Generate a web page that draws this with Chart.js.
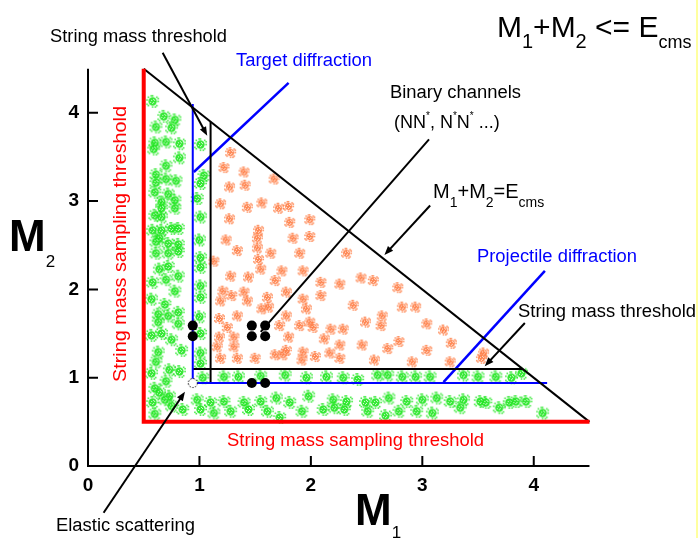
<!DOCTYPE html>
<html>
<head>
<meta charset="utf-8">
<title>M1 + M2 mass plane</title>
<script src="https://cdn.jsdelivr.net/npm/chart.js@4.4.0/dist/chart.umd.min.js"></script>
<style>
html, body { margin: 0; padding: 0; background: #fff; }
canvas { display: block; }
</style>
</head>
<body>
<canvas id="massPlane" width="698" height="538"></canvas>
<script>
// Axis ticks (GeV)
const xTicks = [0, 1, 2, 3, 4];
const yTicks = [0, 1, 2, 3, 4];

const greenPoints = [
    // left strip: target diffraction side
    [0.58, 4.13], [0.68, 3.96], [0.78, 3.92], [0.61, 3.84], [0.75, 3.83], [0.60, 3.66], [0.59, 3.59],
    [0.70, 3.67], [0.82, 3.65], [0.82, 3.49], [0.70, 3.40], [0.61, 3.30], [0.61, 3.21], [0.70, 3.25],
    [0.79, 3.23], [0.60, 3.10], [0.72, 3.08], [0.66, 2.99], [0.78, 3.01], [0.66, 2.92], [0.60, 2.84],
    [0.78, 2.92], [0.66, 2.82], [0.58, 2.67], [0.66, 2.67], [0.75, 2.69], [0.81, 2.69], [0.64, 2.58],
    [0.61, 2.54], [0.72, 2.52], [0.81, 2.51], [0.61, 2.41], [0.72, 2.41], [0.81, 2.43], [0.64, 2.23],
    [0.72, 2.26], [0.70, 2.11], [0.81, 2.15], [0.58, 2.08], [0.78, 1.98], [0.57, 1.89], [0.69, 1.83],
    [0.63, 1.72], [0.72, 1.70], [0.81, 1.74], [0.63, 1.63], [0.81, 1.61], [0.57, 1.48], [0.66, 1.50],
    [0.75, 1.43], [0.84, 1.31], [0.63, 1.29], [0.61, 1.18], [0.57, 1.05], [0.73, 1.09], [0.82, 1.07],
    [0.70, 0.96], [0.60, 0.88], [0.64, 0.83], [0.73, 0.79],
    // between diffraction line and threshold (vertical)
    [1.01, 3.64], [1.04, 3.29], [1.01, 3.20], [0.98, 3.03], [1.01, 2.82], [1.00, 2.56], [1.01, 2.36],
    [1.01, 2.25], [1.01, 2.04], [1.01, 1.91], [1.00, 1.69], [1.01, 1.50], [1.01, 1.28], [1.01, 1.16],
    [1.03, 1.00],
    // between diffraction line and threshold (horizontal)
    [1.22, 1.01], [1.35, 1.01], [1.55, 1.02], [1.77, 1.03], [1.96, 1.00], [2.14, 1.01], [2.29, 1.00],
    [2.42, 0.98], [2.60, 1.03], [2.69, 1.03], [2.82, 1.01], [2.94, 1.01], [3.07, 1.01], [3.37, 1.03],
    [3.50, 1.01], [3.66, 1.01], [3.80, 1.00], [3.89, 1.05],
    // bottom strip: projectile diffraction side
    [0.58, 0.72], [0.60, 0.59], [0.69, 0.75], [0.75, 0.68], [0.85, 0.64], [0.98, 0.75], [1.01, 0.64],
    [1.10, 0.72], [1.13, 0.60], [1.22, 0.73], [1.28, 0.62], [1.40, 0.72], [1.44, 0.64], [1.55, 0.73],
    [1.61, 0.62], [1.69, 0.77], [1.72, 0.55], [1.81, 0.72], [1.92, 0.62], [1.98, 0.79], [2.11, 0.64],
    [2.20, 0.75], [2.21, 0.66], [2.30, 0.64], [2.32, 0.73], [2.49, 0.72], [2.51, 0.62], [2.58, 0.72],
    [2.67, 0.57], [2.70, 0.77], [2.79, 0.62], [2.86, 0.73], [2.95, 0.62], [3.00, 0.75], [3.09, 0.60],
    [3.13, 0.77], [3.25, 0.73], [3.34, 0.66], [3.37, 0.75], [3.52, 0.73], [3.57, 0.72], [3.69, 0.66],
    [3.78, 0.72], [3.84, 0.73], [3.93, 0.73], [4.08, 0.60]
];

const orangePoints = [
    [1.28, 3.55], [1.22, 3.38], [1.40, 3.33], [1.27, 3.16], [1.41, 3.18], [1.67, 3.25], [1.19, 2.97],
    [1.43, 2.93], [1.56, 2.98], [1.71, 2.92], [1.80, 2.94], [1.27, 2.80], [1.81, 2.76], [1.99, 2.79],
    [1.53, 2.67], [1.52, 2.58], [1.84, 2.58], [1.24, 2.56], [1.99, 2.60], [1.34, 2.44], [1.13, 2.32],
    [1.52, 2.47], [1.53, 2.34], [1.64, 2.41], [1.90, 2.41], [1.28, 2.15], [1.44, 2.14], [1.55, 2.23],
    [1.74, 2.21], [1.68, 2.10], [1.93, 2.21], [1.21, 1.98], [1.19, 1.87], [1.29, 1.93], [1.40, 1.97],
    [1.43, 1.87], [1.61, 1.91], [1.62, 1.80], [1.56, 1.78], [1.78, 1.97], [1.93, 1.89], [1.96, 1.78],
    [1.34, 1.70], [1.78, 1.70], [1.18, 1.67], [1.25, 1.57], [1.72, 1.59], [1.90, 1.59], [1.99, 1.63],
    [1.18, 1.46], [1.31, 1.46], [1.80, 1.46], [1.16, 1.35], [1.31, 1.35], [1.78, 1.31], [1.93, 1.29],
    [1.19, 1.22], [1.34, 1.22], [1.50, 1.22], [1.68, 1.26], [1.75, 1.26], [1.92, 1.20],
    [2.32, 2.41], [2.09, 2.08], [2.26, 2.06], [2.45, 2.13], [2.56, 2.10], [2.78, 2.02], [2.09, 1.93],
    [2.38, 1.82], [2.64, 1.70], [2.82, 1.80], [2.94, 1.80], [2.63, 1.59], [2.02, 1.57], [2.18, 1.55],
    [2.29, 1.55], [2.49, 1.63], [3.04, 1.61], [2.12, 1.44], [2.26, 1.37], [2.46, 1.37], [2.69, 1.33],
    [2.79, 1.41], [3.19, 1.54], [3.26, 1.39], [3.04, 1.31], [2.04, 1.24], [2.17, 1.28], [2.26, 1.22],
    [2.57, 1.20], [2.91, 1.18], [3.25, 1.18], [3.55, 1.28], [3.53, 1.22]
];

// Binary channels (N, N*) and elastic point
const binaryM1 = [0.94, 0.94, 1.47, 1.59, 1.47, 1.59, 1.47, 1.59];
const binaryM2 = [1.59, 1.47, 1.59, 1.59, 1.47, 1.47, 0.94, 0.94];
const elasticPoint = [0.94, 0.94];

// Region borders in (M1, M2)
const axisMax = 4.5;
const samplingEdge = [[0.5, 4.5], [0.5, 0.5], [4.5, 0.5]];
const kinematicEdge = [[0.5, 4.5], [4.5, 0.5]];
const diffractionEdge = [[0.94, 4.10], [0.94, 0.94], [4.12, 0.94]];
const thresholdM1 = [[1.10, 3.90], [1.10, 0.93]];
const thresholdM2 = [[0.94, 1.10], [3.90, 1.10]];
const targetPointer = [[0.95, 3.33], [1.80, 4.34]];
const projectilePointer = [[3.19, 0.95], [4.10, 2.21]];

// Callout lines: from, to, arrow head
const callouts = [
    [[0.67, 4.68], [1.07, 3.74], true],
    [[3.06, 3.70], [1.55, 1.52], false],
    [[3.07, 2.95], [2.66, 2.39], true],
    [[3.92, 1.62], [3.56, 1.13], true],
    [[0.14, -0.53], [0.87, 0.84], true]
];

const FONT = 'Arial, "Liberation Sans", sans-serif';
const BLUE = '#0000ff';
const RED = '#ff0000';

// Speckled blob used as point style
const RIM = [[-4, -1], [-3, 3], [0, 4], [3, 3], [4, 0], [3, -3], [0, -4], [-3, -3], [-4, 2], [2, 4], [4, -2], [-1, -4]];
const HOLES = [[-1, -1], [1, 1], [2, -1], [-2, 1], [0, 2], [1, -2]];

function makeBlob(color, r) {
    const size = Math.ceil(r * 2) + 3;
    const c = document.createElement('canvas');
    c.width = c.height = size;
    const g = c.getContext('2d');
    const m = size / 2;
    g.fillStyle = color;
    g.globalAlpha = 0.9;
    g.beginPath();
    g.arc(m, m, r * 0.74, 0, Math.PI * 2);
    g.fill();
    g.globalAlpha = 0.8;
    RIM.forEach(([dx, dy]) => g.fillRect(m + dx * r / 4 - 0.8, m + dy * r / 4 - 0.8, 1.6, 1.6));
    g.globalAlpha = 1;
    g.fillStyle = 'rgba(255,255,255,0.8)';
    HOLES.forEach(([dx, dy]) => g.fillRect(m + dx - 0.5, m + dy - 0.5, 1, 1));
    return c;
}

function makeOpenMarker(r) {
    const size = Math.ceil(r * 2) + 3;
    const c = document.createElement('canvas');
    c.width = c.height = size;
    const g = c.getContext('2d');
    g.fillStyle = '#fff';
    g.beginPath();
    g.arc(size / 2, size / 2, r, 0, Math.PI * 2);
    g.fill();
    g.setLineDash([1.5, 1.5]);
    g.strokeStyle = '#000';
    g.lineWidth = 1;
    g.stroke();
    return c;
}

const toXY = pts => pts.map(([x, y]) => ({ x, y }));

function edge(points, color, width) {
    return {
        data: toXY(points),
        showLine: true,
        borderColor: color,
        borderWidth: width,
        borderJoinStyle: 'miter',
        borderCapStyle: 'butt',
        pointRadius: 0,
        fill: false,
        order: 1
    };
}

// Axes with inward ticks, only up to axisMax
const axesPlugin = {
    id: 'axes',
    beforeDatasetsDraw(chart) {
        const { ctx, scales: { x, y } } = chart;
        const x0 = x.getPixelForValue(0);
        const y0 = y.getPixelForValue(0);
        ctx.save();
        ctx.strokeStyle = '#000';
        ctx.lineWidth = 2;
        ctx.beginPath();
        ctx.moveTo(x0, y.getPixelForValue(axisMax));
        ctx.lineTo(x0, y0);
        ctx.lineTo(x.getPixelForValue(axisMax), y0);
        ctx.stroke();
        ctx.beginPath();
        xTicks.filter(v => v > 0).forEach(v => {
            const px = x.getPixelForValue(v);
            ctx.moveTo(px, y0);
            ctx.lineTo(px, y0 - 10);
        });
        yTicks.filter(v => v > 0).forEach(v => {
            const py = y.getPixelForValue(v);
            ctx.moveTo(x0, py);
            ctx.lineTo(x0 + 10, py);
        });
        ctx.stroke();

        ctx.fillStyle = '#000';
        ctx.font = 'bold 19px ' + FONT;
        ctx.textAlign = 'center';
        ctx.textBaseline = 'middle';
        xTicks.forEach(v => ctx.fillText(String(v), x.getPixelForValue(v), y0 + 20));
        ctx.textAlign = 'right';
        yTicks.forEach(v => ctx.fillText(String(v), x0 - 9, y.getPixelForValue(v)));
        ctx.restore();
    }
};

function drawRuns(ctx, x, y, runs) {
    let cx = x;
    runs.forEach(([t, font, dy]) => {
        ctx.font = font + ' ' + FONT;
        ctx.fillText(t, cx, y + dy);
        cx += ctx.measureText(t).width;
    });
}

function drawLabel(ctx, l) {
    ctx.save();
    ctx.font = l.font + ' ' + FONT;
    ctx.fillStyle = l.color || '#000';
    ctx.textAlign = l.align || 'left';
    ctx.textBaseline = 'alphabetic';
    ctx.translate(l.x, l.y);
    if (l.rotate) ctx.rotate(l.rotate);
    if (l.width) ctx.scale(l.width / ctx.measureText(l.text).width, 1);
    ctx.fillText(l.text, 0, 0);
    ctx.restore();
}

const labels = [
    { text: 'String mass threshold', x: 50, y: 42, font: '18px', width: 177 },
    { text: 'Target diffraction', x: 236, y: 66, font: '18px', width: 136, color: BLUE },
    { text: 'Binary channels', x: 390, y: 98, font: '18px', width: 131 },
    { text: 'Projectile diffraction', x: 477, y: 262, font: '18px', width: 160, color: BLUE },
    { text: 'String mass threshold', x: 518, y: 317, font: '18px', width: 178 },
    { text: 'Elastic scattering', x: 56, y: 531, font: '18px', width: 139 },
    { text: 'String mass sampling threshold', x: 227, y: 446, font: '19px', width: 257, color: RED },
    { text: 'String mass sampling threshold', x: 126, y: 244, font: '19px', width: 276, color: RED,
      align: 'center', rotate: -Math.PI / 2 }
];

const annotationPlugin = {
    id: 'annotations',
    afterDatasetsDraw(chart) {
        const { ctx, scales: { x, y } } = chart;
        ctx.save();
        ctx.strokeStyle = '#000';
        ctx.fillStyle = '#000';
        ctx.lineWidth = 2;
        callouts.forEach(([from, to, head]) => {
            const x1 = x.getPixelForValue(from[0]), y1 = y.getPixelForValue(from[1]);
            const x2 = x.getPixelForValue(to[0]), y2 = y.getPixelForValue(to[1]);
            const a = Math.atan2(y2 - y1, x2 - x1);
            const back = head ? 6 : 0;
            ctx.beginPath();
            ctx.moveTo(x1, y1);
            ctx.lineTo(x2 - back * Math.cos(a), y2 - back * Math.sin(a));
            ctx.stroke();
            if (head) {
                ctx.beginPath();
                ctx.moveTo(x2, y2);
                ctx.lineTo(x2 - 9 * Math.cos(a) + 3.5 * Math.sin(a), y2 - 9 * Math.sin(a) - 3.5 * Math.cos(a));
                ctx.lineTo(x2 - 9 * Math.cos(a) - 3.5 * Math.sin(a), y2 - 9 * Math.sin(a) + 3.5 * Math.cos(a));
                ctx.closePath();
                ctx.fill();
            }
        });

        labels.forEach(l => drawLabel(ctx, l));

        ctx.fillStyle = '#000';
        ctx.textAlign = 'left';
        ctx.textBaseline = 'alphabetic';
        drawRuns(ctx, 497, 37, [['M', '30px', 0], ['1', '20px', 11], ['+', '30px', 0], ['M', '30px', 0],
            ['2', '20px', 11], [' <= ', '30px', 0], ['E', '30px', 0], ['cms', '18px', 11]]);
        drawRuns(ctx, 433, 198, [['M', '20px', 0], ['1', '14px', 9], ['+', '20px', 0], ['M', '20px', 0],
            ['2', '14px', 9], ['=', '20px', 0], ['E', '20px', 0], ['cms', '14px', 9]]);
        drawRuns(ctx, 394, 128, [['(NN', '18px', 0], ['*', '10px', -9], [', N', '18px', 0], ['*', '10px', -9],
            ['N', '18px', 0], ['*', '10px', -9], [' ...)', '18px', 0]]);
        // axis titles
        drawRuns(ctx, 9, 251, [['M', 'bold 44px', 0], ['2', '17px', 16]]);
        drawRuns(ctx, 355, 525, [['M', 'bold 44px', 0], ['1', '17px', 13]]);

        // thin yellow frame edge on the right
        ctx.strokeStyle = '#ffff80';
        ctx.lineWidth = 1.5;
        ctx.beginPath();
        ctx.moveTo(697, 0);
        ctx.lineTo(697, 538);
        ctx.stroke();
        ctx.restore();
    }
};

new Chart(document.getElementById('massPlane'), {
    type: 'scatter',
    data: {
        datasets: [
            {
                label: 'Binary channels',
                data: binaryM1.map((m, i) => ({ x: m, y: binaryM2[i] })),
                pointRadius: 5,
                pointBackgroundColor: '#000',
                pointBorderWidth: 0,
                order: 0
            },
            {
                label: 'Elastic scattering',
                data: [{ x: elasticPoint[0], y: elasticPoint[1] }],
                pointStyle: makeOpenMarker(4.5),
                pointRadius: 5,
                order: 0
            },
            edge(samplingEdge, RED, 4),
            edge(kinematicEdge, '#000', 2),
            edge(diffractionEdge, BLUE, 2),
            edge(thresholdM1, '#000', 2),
            edge(thresholdM2, '#000', 2),
            edge(targetPointer, BLUE, 2.5),
            edge(projectilePointer, BLUE, 2.5),
            {
                label: 'Diffractive strings',
                data: toXY(greenPoints),
                pointStyle: makeBlob('#1ee61e', 5.6),
                pointRadius: 5,
                order: 2
            },
            {
                label: 'Non-diffractive strings',
                data: toXY(orangePoints),
                pointStyle: makeBlob('#ff7a40', 4.7),
                pointRadius: 5,
                order: 2
            }
        ]
    },
    options: {
        responsive: false,
        animation: false,
        events: [],
        layout: { padding: { left: 88, right: 0, top: 0, bottom: 72 } },
        scales: {
            x: { type: 'linear', min: 0, max: 5.42, display: false },
            y: { type: 'linear', min: 0, max: 5.21, display: false }
        },
        plugins: {
            legend: { display: false },
            tooltip: { enabled: false }
        }
    },
    plugins: [axesPlugin, annotationPlugin]
});
</script>
</body>
</html>
